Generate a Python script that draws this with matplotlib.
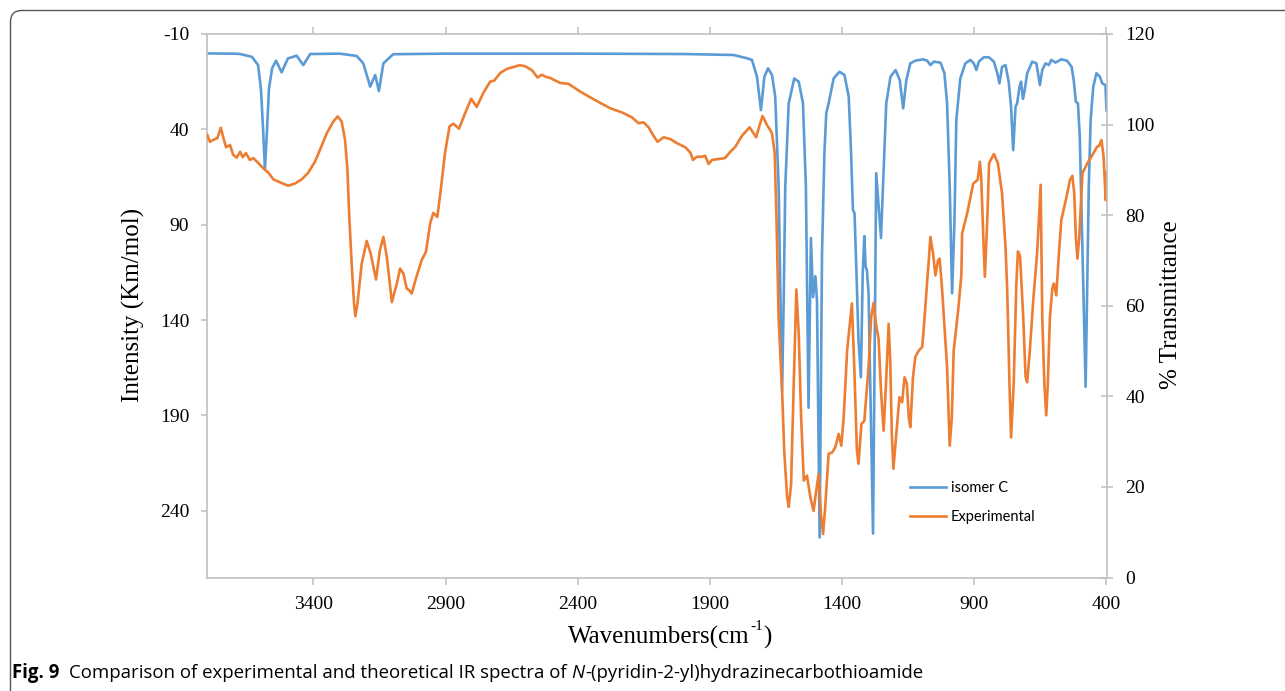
import matplotlib
matplotlib.use('Agg')
import matplotlib.pyplot as plt
from matplotlib.patches import FancyBboxPatch

# ---------------- data ----------------
x_ticks = [3400, 2900, 2400, 1900, 1400, 900, 400]
left_ticks = [-10, 40, 90, 140, 190, 240]
right_ticks = [0, 20, 40, 60, 80, 100, 120]

isomer_wn = [3801, 3700, 3677, 3632, 3609, 3598, 3590, 3583, 3575, 3568, 3556, 3541,
             3520, 3496, 3463, 3438, 3412, 3300, 3236, 3211, 3185, 3166, 3152, 3135,
             3098, 2900, 2400, 2000, 1811, 1760, 1741, 1722, 1707, 1694, 1680, 1665,
             1653, 1640, 1633, 1627, 1621, 1615, 1602, 1581, 1564, 1548, 1537, 1527,
             1518, 1510, 1501, 1495, 1485, 1476, 1467, 1460, 1451, 1432, 1410, 1391,
             1375, 1366, 1359, 1353, 1346, 1338, 1329, 1322, 1316, 1311, 1306, 1300,
             1283, 1276, 1271, 1262, 1253, 1243, 1233, 1217, 1198, 1182, 1169, 1157,
             1142, 1123, 1094, 1078, 1066, 1053, 1028, 1013, 1003, 993, 984, 975,
             968, 953, 934, 915, 902, 892, 883, 864, 845, 826, 813, 805,
             795, 782, 770, 761, 753, 744, 738, 729, 723, 716, 710, 700,
             681, 665, 652, 643, 631, 618, 609, 593, 571, 549, 532, 524,
             516, 508, 501, 479, 473, 467, 460, 450, 438, 425, 416, 404, 400]
isomer_int = [0.2, 0.3, 0.5, 2, 6.3, 19, 40, 61, 40, 19, 8, 4,
              10.1, 2.8, 1.4, 6.3, 0.5, 0.3, 1.5, 5.4, 17.6, 11.5, 19.9, 5.4,
              0.6, 0.3, 0.3, 0.5, 1.0, 2.7, 3.6, 12.4, 29.9, 12.4, 8, 11.5,
              22.9, 70, 130, 177, 130, 70, 26.4, 13.3, 15, 26.4, 70, 186,
              97, 128, 117, 130, 254, 105, 52.6, 31.6, 26.4, 13.3, 9.8, 11.5,
              22.9, 52.6, 82.3, 84, 113.8, 150.5, 170, 115.5, 96, 112, 114, 126,
              252, 140, 63, 80, 97, 61, 26.4, 12.4, 8.9, 14.1, 29, 14.1,
              5.4, 4, 3.3, 4, 6.3, 4.5, 5, 10.6, 26.4, 70, 126, 87.6,
              35.1, 13.3, 5.4, 3.6, 5.4, 8.9, 4.5, 2.2, 2.2, 4.5, 10.6, 15.9,
              7.2, 6.3, 15, 28.1, 50.9, 28.1, 26.4, 17.6, 15, 24, 20, 10.6,
              4.5, 5.4, 16.8, 8.9, 5.4, 6.3, 3.6, 5, 3.3, 4, 7.2, 14.1,
              25.5, 26.4, 43.9, 175, 122.6, 70, 35.1, 17.6, 10.6, 12.4, 15.9, 16.8, 30]

exp_wn = [3801, 3791, 3772, 3763, 3750, 3738, 3730, 3715, 3703, 3690, 3677, 3667,
          3655, 3640, 3627, 3608, 3583, 3570, 3551, 3532, 3516, 3495, 3469, 3444,
          3419, 3394, 3375, 3349, 3324, 3308, 3293, 3280, 3271, 3264, 3255, 3246,
          3241, 3233, 3217, 3198, 3183, 3163, 3148, 3135, 3122, 3103, 3084, 3072,
          3059, 3047, 3037, 3028, 3012, 2990, 2974, 2958, 2946, 2931, 2918, 2902,
          2885, 2870, 2849, 2826, 2803, 2782, 2757, 2731, 2716, 2693, 2668, 2643,
          2620, 2599, 2573, 2552, 2536, 2519, 2504, 2492, 2466, 2435, 2391, 2340,
          2277, 2233, 2195, 2170, 2151, 2132, 2113, 2098, 2075, 2050, 2025, 1993,
          1974, 1964, 1949, 1930, 1918, 1905, 1892, 1867, 1843, 1826, 1804, 1779,
          1750, 1725, 1712, 1701, 1684, 1672, 1665, 1655, 1648, 1640, 1627, 1619,
          1608, 1602, 1593, 1583, 1573, 1564, 1555, 1545, 1533, 1520, 1508, 1498,
          1489, 1480, 1472, 1464, 1451, 1438, 1426, 1413, 1403, 1394, 1381, 1363,
          1354, 1344, 1338, 1327, 1316, 1300, 1290, 1281, 1272, 1262, 1253, 1243,
          1234, 1224, 1218, 1212, 1206, 1195, 1183, 1173, 1164, 1155, 1148, 1142,
          1132, 1123, 1110, 1097, 1088, 1078, 1072, 1066, 1056, 1047, 1037, 1031,
          1022, 1003, 993, 985, 978, 961, 949, 946, 927, 904, 887, 879,
          874, 866, 860, 851, 844, 826, 811, 795, 782, 776, 773, 767,
          761, 751, 741, 735, 727, 715, 706, 700, 690, 677, 662, 649,
          643, 635, 628, 622, 614, 605, 599, 590, 580, 571, 554, 538,
          529, 522, 516, 510, 503, 491, 472, 453, 436, 428, 419, 411, 403, 400]
exp_T = [97.7, 96.2, 96.8, 97, 99.3, 96.6, 95, 95.5, 93.3, 92.7, 94, 92.8,
         93.7, 92.2, 92.6, 91.5, 90, 89.4, 87.9, 87.4, 87, 86.5, 87, 87.9,
         89.4, 91.8, 94.4, 98.1, 100.7, 101.8, 100.7, 96.6, 90, 79.6, 69.3, 60.5,
         57.7, 60.5, 69.3, 74.3, 71.5, 65.8, 72.3, 75.2, 70.8, 60.8, 64.9, 68.2,
         67.1, 63.8, 63.4, 62.7, 66, 70.1, 71.9, 78.2, 80.5, 79.6, 85.6, 93.7,
         99.6, 100.2, 99.1, 102.5, 105.7, 103.9, 107, 109.5, 109.7, 111.4, 112.3, 112.7,
         113.1, 112.9, 112, 110.4, 111, 110.5, 110.3, 109.9, 109.2, 109, 107.3, 105.6,
         103.6, 102.7, 101.6, 100.3, 100.5, 99.4, 97.5, 96.2, 97.2, 96.8, 95.9, 95,
         93.8, 92.2, 92.9, 92.9, 93.1, 91.3, 92.2, 92.4, 92.6, 93.8, 95.1, 97.5,
         99.4, 97.2, 99.9, 101.9, 99.9, 98.8, 98, 93.7, 78.9, 57, 41.3, 28,
         17.7, 15.6, 20.6, 42.8, 63.6, 53.8, 35.4, 21.4, 22.5, 17.7, 14.7, 19.1,
         22.8, 14, 9.6, 15.5, 27.3, 27.6, 28.7, 31.7, 29.1, 35.4, 50.1, 60.5,
         46.4, 28, 25.1, 33.9, 34.6, 46.4, 57.5, 60.6, 56, 52.7, 41.3, 32.4,
         42.8, 56, 47.9, 31.7, 24, 31.7, 39.8, 38.7, 44.2, 42.8, 35.4, 33.2,
         44.2, 48.7, 50.1, 50.9, 57.5, 65.6, 70.1, 75.2, 71.5, 66.7, 70.1, 70.4,
         63.8, 46.4, 29.1, 35.4, 50.1, 59, 66.7, 76, 80.4, 87, 87.8, 91.8,
         88.5, 75.2, 66.4, 78.9, 91.5, 93.5, 91.5, 84.8, 73, 64.2, 57.5, 42.8,
         30.9, 42.8, 64.9, 72, 71, 57.5, 44.2, 43.1, 50.1, 61.2, 72, 86.7,
         57.5, 42.8, 35.8, 42.8, 57.5, 63.8, 64.9, 62.3, 71.5, 78.9, 83.3, 87.8,
         88.7, 84.8, 75.2, 70.4, 75.2, 89.3, 91.5, 93.3, 95.1, 95.3, 96.6, 92.9, 83.3, 89.3]

# ---------------- figure ----------------
plt.rcParams['font.family'] = ['Liberation Serif', 'DejaVu Serif']
plt.rcParams['axes.unicode_minus'] = False
W, H = 1285, 691
fig = plt.figure(figsize=(W / 100, H / 100), dpi=100)
r = fig.canvas.get_renderer()


def fx(px):
    return px / W


def fy(py):
    return 1 - py / H


GRAY = '#BFBFBF'
BLUE = '#5B9BD5'
ORANGE = '#ED7D31'

L, R, T, B = 207.3, 1106.5, 34.0, 577.5
ax = fig.add_axes([fx(L), fy(B), fx(R) - fx(L), fy(T) - fy(B)])
l1, = ax.plot(isomer_wn, isomer_int, color=BLUE, lw=1.9, label='isomer C', solid_joinstyle='round')
ax.set_xlim(3801, 400)
ax.set_ylim(275, -10)
ax.set_xticks(x_ticks)
ax.set_yticks(left_ticks)

ax2 = ax.twinx()
l2, = ax2.plot(exp_wn, exp_T, color=ORANGE, lw=1.9, label='Experimental', solid_joinstyle='round')
ax2.set_ylim(0, 120)
ax2.set_yticks(right_ticks)

for a in (ax, ax2):
    for s in a.spines.values():
        s.set_color(GRAY)
        s.set_linewidth(1.2)
ax.spines['right'].set_visible(False)
for s in ('left', 'top', 'bottom'):
    ax2.spines[s].set_visible(False)

ax.tick_params(axis='y', direction='out', length=4, width=1.1, color=GRAY,
               pad=9, labelsize=14, labelcolor='black')
ax.tick_params(axis='x', direction='out', length=5, width=1.1, color=GRAY,
               top=True, pad=8, labelsize=14, labelcolor='black')
ax2.tick_params(axis='y', direction='inout', length=9, width=1.1, color=GRAY,
                pad=9, labelsize=14, labelcolor='black')

# axis titles
fig.text(fx(133), fy(305), 'Intensity (Km/mol)', rotation=90, ha='center', va='center', fontsize=18)
fig.text(fx(1171), fy(305), '% Transmittance', rotation=90, ha='center', va='center', fontsize=18)

# x title built from pieces: main text, small raised "-1", closing bracket
xa = fig.text(fx(568), fy(637), 'Wavenumbers(cm', ha='left', va='center', fontsize=18)
bb = xa.get_window_extent(r)
xs = fig.text((bb.x1 + 0.5) / W, fy(627), '-1', ha='left', va='center', fontsize=11)
bb2 = xs.get_window_extent(r)
fig.text((bb2.x1 + 0.5) / W, fy(637), ')', ha='left', va='center', fontsize=18)

# legend
fig.legend([l1, l2], ['isomer C', 'Experimental'], loc='upper left',
           bbox_to_anchor=(fx(910), fy(481)), frameon=False,
           prop={'family': 'Lato', 'size': 10.5}, handlelength=2.45,
           handletextpad=0.35, labelspacing=1.05, borderpad=0, borderaxespad=0)

# caption box border
box = FancyBboxPatch((0.105, -1.0), 20, 6.805 + 1.0,
                     boxstyle='round,pad=0,rounding_size=0.11',
                     transform=fig.dpi_scale_trans, fill=False,
                     ec='#555555', lw=1.0)
fig.patches.append(box)

# caption
CAP = 13.4
cap_y = fy(673)
t0 = fig.text(fx(12), cap_y, 'Fig. 9', ha='left', va='center', fontsize=CAP,
              family='Open Sans', weight='bold')
bb = t0.get_window_extent(r)
t1 = fig.text((bb.x1 + 10) / W, cap_y, 'Comparison of experimental and theoretical IR spectra of',
              ha='left', va='center', fontsize=CAP, family='Open Sans')
bb = t1.get_window_extent(r)
t2 = fig.text((bb.x1 + 4.5) / W, cap_y, 'N', ha='left', va='center', fontsize=CAP,
              family='Open Sans', style='italic')
bb = t2.get_window_extent(r)
fig.text((bb.x1 + 0.5) / W, cap_y, '-(pyridin-2-yl)hydrazinecarbothioamide',
         ha='left', va='center', fontsize=CAP, family='Open Sans')

fig.savefig('out.png', dpi=100)
